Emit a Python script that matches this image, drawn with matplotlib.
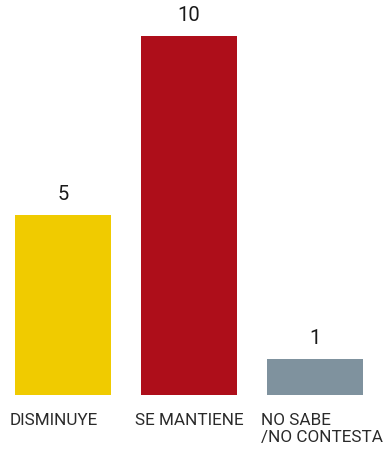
import matplotlib
matplotlib.use("Agg")
import matplotlib.pyplot as plt

categories = ["DISMINUYE", "SE MANTIENE", "NO SABE\n/NO CONTESTA"]
values = [5, 10, 1]
colors = ["#F0CB00", "#AE0E1A", "#7F929E"]

fam = ["Roboto", "DejaVu Sans"]

fig = plt.figure(figsize=(3.87, 4.5), dpi=100)
ax = fig.add_axes([0, 55/450, 378/387, 395/450])
x = list(range(len(values)))
bars = ax.bar(x, values, width=96/126, color=colors)
ax.set_xlim(-0.5, 2.5)
ax.set_ylim(0, 11)
ax.axis("off")

for xi, v in zip(x, values):
    ax.annotate(str(v), (xi, v), xytext=(0, 8), textcoords="offset points",
                ha="center", va="bottom", fontsize=14.5, color="#1a1a1a",
                family=fam, fontweight="normal")
for b, lab in zip(bars, categories):
    ax.annotate(lab, (b.get_x(), 0), xytext=(-4, -13), textcoords="offset points",
                ha="left", va="top", fontsize=12.3, color="#2a2a2a", family=fam,
                fontweight="normal", linespacing=1.15, annotation_clip=False)

fig.savefig("out.png", dpi=100)
